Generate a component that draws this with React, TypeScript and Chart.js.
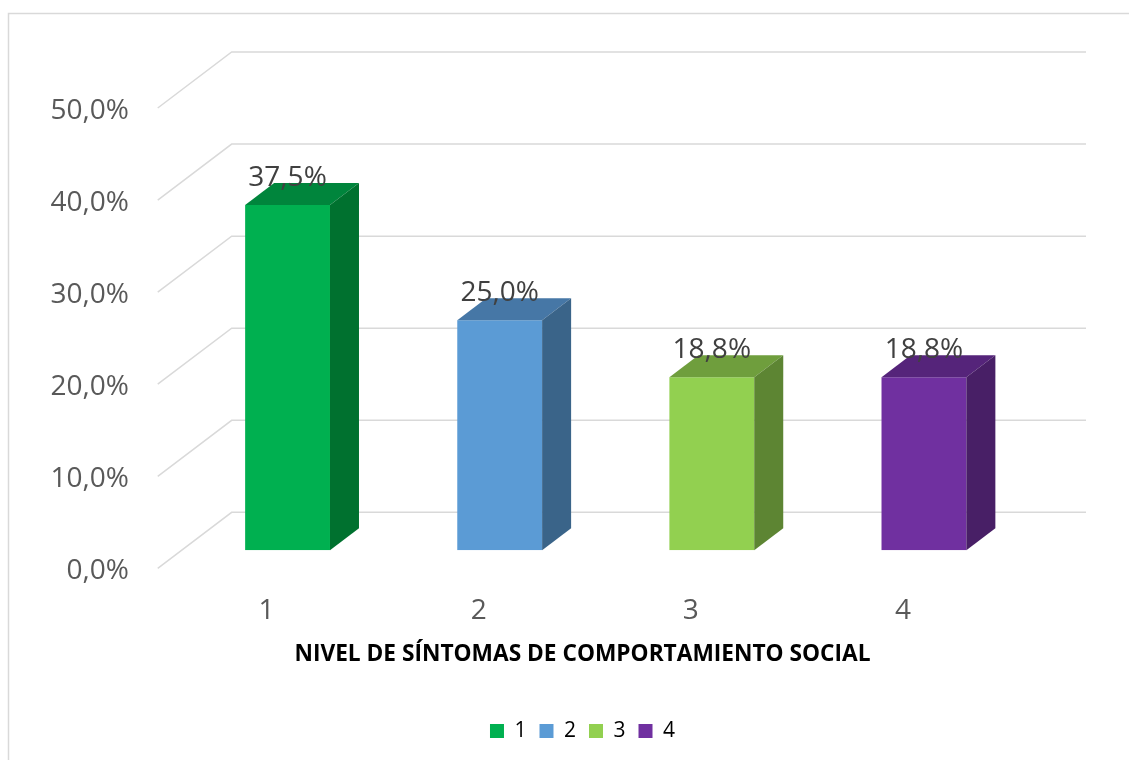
import React, { useEffect, useRef } from 'react';
import { Chart, registerables } from 'chart.js';

Chart.register(...registerables);

// ---- data ----
const categories = ['1', '2', '3', '4'];
const values = [37.5, 25.0, 18.8, 18.8];
const yMin = 0;
const yMax = 50;
const yStep = 10;
const axisTitle = 'NIVEL DE SÍNTOMAS DE COMPORTAMIENTO SOCIAL';

// ---- styles ----
const frontColors = ['#00b050', '#5b9bd5', '#92d050', '#7030a0'];
const topColors = ['#00853c', '#4677a6', '#6f9e3d', '#55247a'];
const sideColors = ['#00712f', '#3a6489', '#5d8533', '#481f66'];
const FONT = '"Open Sans", "DejaVu Sans", sans-serif';
const GRID = '#d9d9d9';
const BAR_DX = 29;
const BAR_DY = 22;
const WALL_DY = 38;
const FLOOR_DY = 18;
const SLOPE = 1.32;

const fmt = (v: number) => v.toFixed(1).replace('.', ',') + '%';

const excel3d = {
  id: 'excel3d',
  beforeDraw(chart: any) {
    const { ctx } = chart;
    ctx.save();
    ctx.strokeStyle = GRID;
    ctx.lineWidth = 1.5;
    ctx.beginPath();
    ctx.moveTo(8.5, chart.height);
    ctx.lineTo(8.5, 13.5);
    ctx.lineTo(chart.width, 13.5);
    ctx.stroke();
    ctx.restore();
  },
  beforeDatasetsDraw(chart: any) {
    const { ctx, chartArea, scales } = chart;
    const ys = scales.y;
    ctx.save();
    ctx.strokeStyle = GRID;
    ctx.lineWidth = 1.5;
    ys.ticks.forEach((t: any) => {
      const py = ys.getPixelForValue(t.value);
      const backY = py - WALL_DY;
      const frontY = py + FLOOR_DY;
      const backX = chartArea.left + WALL_DY * SLOPE;
      const frontX = chartArea.left - FLOOR_DY * SLOPE;
      ctx.beginPath();
      ctx.moveTo(frontX, frontY);
      ctx.lineTo(backX, backY);
      ctx.lineTo(chartArea.right + 56, backY);
      ctx.stroke();
    });
    ctx.restore();
  },
  afterDatasetsDraw(chart: any) {
    const { ctx } = chart;
    const meta = chart.getDatasetMeta(0);
    ctx.save();
    meta.data.forEach((bar: any, i: number) => {
      const { x, y, base, width } = bar.getProps(['x', 'y', 'base', 'width'], true);
      const l = x - width / 2;
      const r = x + width / 2;
      ctx.fillStyle = topColors[i];
      ctx.beginPath();
      ctx.moveTo(l, y);
      ctx.lineTo(l + BAR_DX, y - BAR_DY);
      ctx.lineTo(r + BAR_DX, y - BAR_DY);
      ctx.lineTo(r, y);
      ctx.closePath();
      ctx.fill();
      ctx.fillStyle = sideColors[i];
      ctx.beginPath();
      ctx.moveTo(r, y);
      ctx.lineTo(r + BAR_DX, y - BAR_DY);
      ctx.lineTo(r + BAR_DX, base - BAR_DY);
      ctx.lineTo(r, base);
      ctx.closePath();
      ctx.fill();
      ctx.fillStyle = '#404040';
      ctx.font = `28px ${FONT}`;
      ctx.textAlign = 'center';
      ctx.textBaseline = 'middle';
      ctx.fillText(fmt(values[i]), x, y - 27);
    });
    ctx.restore();
  },
};

export default function App() {
  const ref = useRef<HTMLCanvasElement | null>(null);
  useEffect(() => {
    if (!ref.current) return;
    const chart = new Chart(ref.current, {
      type: 'bar',
      data: {
        labels: categories,
        datasets: [
          {
            data: values,
            backgroundColor: frontColors,
            borderWidth: 0,
            categoryPercentage: 1,
            barPercentage: 0.4,
          },
        ],
      },
      options: {
        animation: false,
        responsive: true,
        maintainAspectRatio: false,
        layout: { padding: { left: 36, right: 0, top: 90, bottom: 8.5 } },
        scales: {
          x: {
            grid: { display: false, drawTicks: false },
            border: { display: false },
            ticks: {
              color: '#595959',
              font: { family: FONT, size: 28 },
              padding: 43.7,
              labelOffset: -21,
            },
            afterFit: (s: any) => {
              s.height = 74.3;
            },
          },
          y: {
            min: yMin,
            max: yMax,
            grid: { display: false, drawTicks: false },
            border: { display: false },
            ticks: {
              stepSize: yStep,
              color: '#595959',
              font: { family: FONT, size: 28 },
              padding: 52.5,
              labelOffset: 21,
              callback: (v: any) => fmt(Number(v)),
            },
            afterFit: (s: any) => {
              s.width = 145.5;
            },
          },
          y2: {
            type: 'linear',
            position: 'right',
            grid: { display: false, drawTicks: false },
            border: { display: false },
            ticks: { display: false },
            afterFit: (s: any) => {
              s.width = 99;
            },
          },
        },
        plugins: {
          tooltip: { enabled: false },
          title: {
            display: true,
            text: axisTitle,
            position: 'bottom',
            weight: 500,
            color: '#000000',
            font: { family: FONT, size: 22.7, weight: 'bold' },
            padding: { top: 16.4, bottom: 39.2 },
          } as any,
          legend: {
            position: 'bottom',
            labels: {
              boxWidth: 14,
              boxHeight: 14,
              padding: 13,
              color: '#000000',
              font: { family: FONT, size: 21 },
              generateLabels: () =>
                categories.map((c, i) => ({
                  text: c,
                  fillStyle: frontColors[i],
                  strokeStyle: frontColors[i],
                  lineWidth: 0,
                  hidden: false,
                  index: i,
                })),
            },
          },
        },
      } as any,
      plugins: [excel3d],
    });
    return () => chart.destroy();
  }, []);
  return (
    <div style={{ position: 'fixed', left: 0, top: 0, width: 1129, height: 760, background: '#ffffff' }}>
      <canvas ref={ref} />
    </div>
  );
}
